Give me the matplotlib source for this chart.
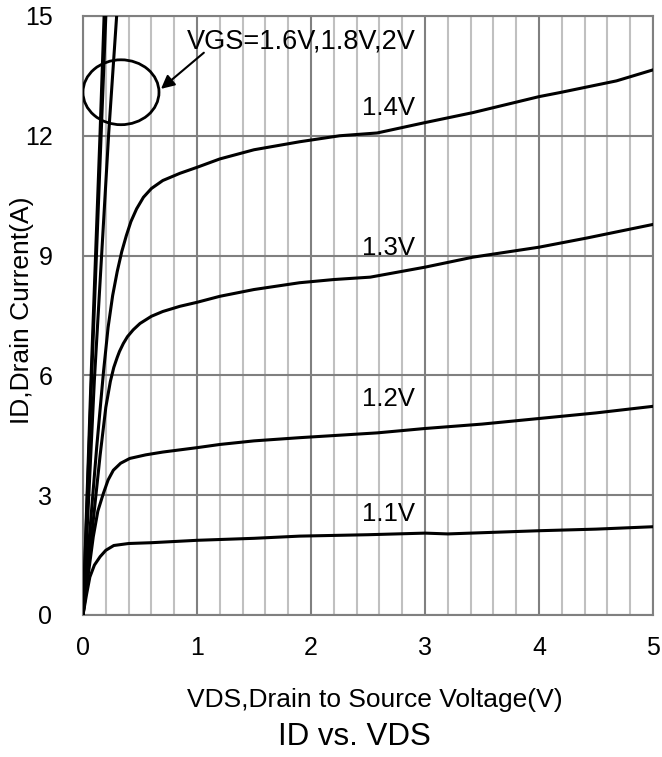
import matplotlib
matplotlib.use("Agg")
import matplotlib.pyplot as plt
from matplotlib.patches import Ellipse
from matplotlib.ticker import MultipleLocator

plt.rcParams['font.family'] = ['Liberation Sans', 'DejaVu Sans']

# output curves, VDS (V) vs ID (A)
vds_11 = [0, 0.03, 0.06, 0.1, 0.15, 0.2, 0.27, 0.4, 0.6, 1.0, 1.5, 1.9, 2.5, 3.0, 3.2, 3.5, 4.0, 4.5, 5.0]
id_11 = [0, 0.5, 0.95, 1.25, 1.46, 1.62, 1.74, 1.79, 1.81, 1.87, 1.92, 1.975, 2.01, 2.05, 2.03, 2.06, 2.11, 2.15, 2.21]

vds_12 = [0, 0.05, 0.09, 0.13, 0.178, 0.22, 0.266, 0.33, 0.41, 0.55, 0.7, 1.0, 1.2, 1.5, 1.9, 2.58, 3.0, 3.5, 4.0, 4.5, 5.0]
id_12 = [0, 1.1, 1.96, 2.6, 3.04, 3.38, 3.625, 3.8, 3.92, 4.01, 4.08, 4.19, 4.27, 4.36, 4.44, 4.56, 4.67, 4.78, 4.92, 5.06, 5.225]

vds_13 = [0, 0.08, 0.15, 0.2, 0.24, 0.27, 0.3, 0.32, 0.354, 0.39, 0.44, 0.5, 0.6, 0.7, 0.85, 1.0, 1.2, 1.5, 1.9, 2.2, 2.52, 3.0, 3.42, 4.0, 4.42, 5.0]
id_13 = [0, 2.1, 4.0, 5.2, 5.85, 6.2, 6.45, 6.6, 6.8, 6.97, 7.14, 7.3, 7.48, 7.6, 7.73, 7.83, 7.98, 8.15, 8.32, 8.4, 8.46, 8.71, 8.96, 9.21, 9.44, 9.78]

vds_14 = [0, 0.06, 0.12, 0.18, 0.22, 0.26, 0.3, 0.34, 0.38, 0.42, 0.47, 0.53, 0.6, 0.7, 0.85, 1.0, 1.2, 1.5, 1.9, 2.25, 2.58, 3.0, 3.42, 4.0, 4.18, 4.68, 5.0]
id_14 = [0, 2.1, 4.2, 6.1, 7.2, 8.0, 8.6, 9.1, 9.5, 9.85, 10.17, 10.46, 10.68, 10.88, 11.06, 11.21, 11.42, 11.65, 11.85, 12.0, 12.07, 12.33, 12.58, 12.98, 13.08, 13.375, 13.65]

vds_16 = [0, 0.1, 0.225, 0.295]
id_16 = [0, 5.9, 12.05, 15]
vds_18 = [0, 0.075, 0.16, 0.2]
id_18 = [0, 5.9, 12.1, 15]
vds_20 = [0, 0.07, 0.15, 0.185]
id_20 = [0, 5.9, 12.1, 15]

curves = [(vds_11, id_11), (vds_12, id_12), (vds_13, id_13), (vds_14, id_14),
          (vds_16, id_16), (vds_18, id_18), (vds_20, id_20)]

curve_labels = ['1.1V', '1.2V', '1.3V', '1.4V']
label_y = [2.52, 5.4, 9.2, 12.69]

fig = plt.figure(figsize=(6.62, 7.57), dpi=100)
ax = fig.add_axes([0.1254, 0.1876, 0.861, 0.7913])

for xs, ys in curves:
    ax.plot(xs, ys, color='black', lw=2.2, solid_joinstyle='round', zorder=3)

for lab, yy in zip(curve_labels, label_y):
    ax.text(2.45, yy, lab, fontsize=18.5, ha='left', va='center', zorder=4)

ax.text(0.912, 14.37, 'VGS=1.6V,1.8V,2V', fontsize=19.5, ha='left', va='center', zorder=4)
ax.add_patch(Ellipse((0.333, 13.09), 0.667, 1.625, fill=False, ec='black', lw=2, zorder=4))
ax.annotate('', xy=(0.684, 13.175), xytext=(1.06, 14.08),
            arrowprops=dict(arrowstyle='-|>', color='black', lw=1.5, mutation_scale=20,
                            shrinkA=0, shrinkB=0), zorder=4)

ax.set_xlim(0, 5)
ax.set_ylim(0, 15)
ax.xaxis.set_major_locator(MultipleLocator(1))
ax.xaxis.set_minor_locator(MultipleLocator(0.2))
ax.yaxis.set_major_locator(MultipleLocator(3))
ax.grid(which='minor', axis='x', color='#c0c0c0', lw=1.5)
ax.grid(which='major', axis='both', color='#808080', lw=1.5)
ax.set_axisbelow(True)
ax.tick_params(which='both', length=0, labelsize=18)
ax.tick_params(axis='x', pad=15)
ax.tick_params(axis='y', pad=22)
for sp in ax.spines.values():
    sp.set_color('#808080')
    sp.set_linewidth(1.5)

fig.text(0.566, 0.0753, 'VDS,Drain to Source Voltage(V)', fontsize=19, ha='center', va='center')
fig.text(0.536, 0.027, 'ID vs. VDS', fontsize=22.5, ha='center', va='center')
fig.text(0.033, 0.59, 'ID,Drain Current(A)', fontsize=19, rotation=90, ha='center', va='center')

fig.savefig('out.png', dpi=100)
